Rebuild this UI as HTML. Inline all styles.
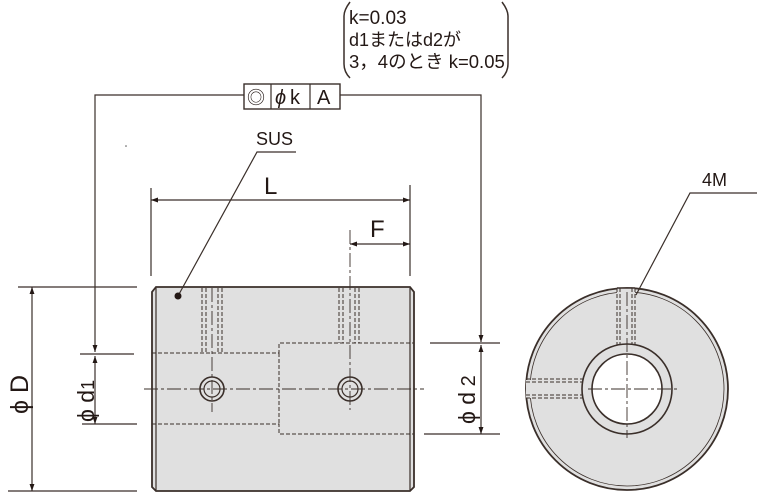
<!DOCTYPE html>
<html><head><meta charset="utf-8"><style>
html,body{margin:0;padding:0;background:#fff}
svg{display:block}
text{font-family:"Liberation Sans","Noto Sans CJK JP",sans-serif;fill:#231815}
</style></head><body>
<svg width="758" height="492" viewBox="0 0 758 492" xmlns="http://www.w3.org/2000/svg">
<defs>
<marker id="a" viewBox="0 0 10 10" refX="10" refY="5" markerWidth="10" markerHeight="7" orient="auto-start-reverse" markerUnits="userSpaceOnUse"><path d="M0,1.5 L10,5 L0,8.5z" fill="#231815"/></marker>
</defs>
<g stroke="#3a2f2a" fill="none" stroke-width="1.2">
<path d="M350,2 Q344,10 344,16 L344,64 Q344,72 350,78" stroke-width="1.5"/>
<path d="M502,2 Q508,10 508,16 L508,64 Q508,72 502,78" stroke-width="1.5"/>
<rect x="244" y="84" width="96" height="25" fill="#fff" stroke-width="1.4"/>
<line x1="271" y1="84" x2="271" y2="109"/><line x1="310" y1="84" x2="310" y2="109"/>
<polyline points="244,95 95,95 95,352" marker-end="url(#a)"/>
<polyline points="340,95 481,95 481,342" marker-end="url(#a)"/>
<path d="M156,287 L410,287 L414,292 L414,487 L410,491 L156,491 L152,487 L152,292 Z" fill="#e0e0e0" stroke-width="1.8"/>
<line x1="156" y1="288" x2="156" y2="490"/><line x1="410" y1="288" x2="410" y2="490"/>
<g stroke-dasharray="4,2" stroke-width="1">
<polyline points="152,353 279,353 279,343 414,343"/>
<polyline points="152,424 279,424 279,434 414,434"/>
<line x1="279" y1="353" x2="279" y2="424"/>
<line x1="202" y1="288" x2="202" y2="353"/><line x1="206" y1="288" x2="206" y2="353"/>
<line x1="218" y1="288" x2="218" y2="353"/><line x1="222" y1="288" x2="222" y2="353"/>
<line x1="339" y1="288" x2="339" y2="343"/><line x1="343" y1="288" x2="343" y2="343"/>
<line x1="355" y1="288" x2="355" y2="343"/><line x1="359" y1="288" x2="359" y2="343"/>
</g>
<g stroke-dasharray="14,3,3,3" stroke-width="0.9">
<line x1="144" y1="389" x2="424" y2="389"/>
<line x1="212" y1="288" x2="212" y2="412"/>
<line x1="350" y1="230" x2="350" y2="410"/>
</g>
<circle cx="212" cy="389" r="12" stroke-width="1.6"/><circle cx="212" cy="389" r="8"/>
<circle cx="350" cy="389" r="12" stroke-width="1.6"/><circle cx="350" cy="389" r="8"/>
<line x1="18" y1="287" x2="137" y2="287"/><line x1="8" y1="491" x2="137" y2="491"/>
<line x1="32" y1="287" x2="32" y2="491" marker-start="url(#a)" marker-end="url(#a)"/>
<line x1="80" y1="354" x2="134" y2="354"/><line x1="82" y1="424" x2="137" y2="424"/>
<line x1="95" y1="356" x2="95" y2="424" marker-start="url(#a)" marker-end="url(#a)"/>
<line x1="430" y1="343" x2="500" y2="343"/><line x1="424" y1="434" x2="500" y2="434"/>
<line x1="481" y1="345" x2="481" y2="434" marker-start="url(#a)" marker-end="url(#a)"/>
<line x1="151" y1="188" x2="151" y2="276"/><line x1="410" y1="185" x2="410" y2="276"/>
<line x1="151" y1="200" x2="410" y2="200" marker-start="url(#a)" marker-end="url(#a)"/>
<line x1="350" y1="244" x2="410" y2="244" marker-start="url(#a)" marker-end="url(#a)"/>
<polyline points="296,152 257,152 178,296"/>
<circle cx="627" cy="389" r="101" fill="#e0e0e0" stroke-width="1.8"/>
<circle cx="627" cy="389" r="97" stroke-width="0.8"/>
<rect x="617" y="288" width="18" height="57" fill="#e0e0e0" stroke="none"/>
<rect x="526" y="380" width="40" height="18" fill="#e0e0e0" stroke="none"/>
<g stroke-dasharray="4,2" stroke-width="1">
<line x1="617" y1="288" x2="617" y2="346"/><line x1="620" y1="288" x2="620" y2="346"/>
<line x1="632" y1="288" x2="632" y2="346"/><line x1="635" y1="288" x2="635" y2="346"/>
<line x1="526" y1="379" x2="585" y2="379"/><line x1="526" y1="382" x2="585" y2="382"/>
<line x1="526" y1="395" x2="585" y2="395"/><line x1="526" y1="398" x2="585" y2="398"/>
</g>
<line x1="617" y1="288" x2="635" y2="288" stroke-width="1.6"/>
<circle cx="627" cy="389" r="45" fill="#e0e0e0" stroke-width="1.6"/>
<circle cx="627" cy="389" r="35" fill="#fff" stroke-width="1.6"/>
<g stroke-dasharray="14,3,3,3" stroke-width="0.9">
<line x1="588" y1="389" x2="680" y2="389"/><line x1="627" y1="292" x2="627" y2="438"/>
</g>
<polyline points="757,193 690,193 636,295"/>
</g>
<circle cx="178" cy="296" r="3.5" fill="#231815"/>
<circle cx="126" cy="146" r="0.8" fill="#555"/>
<text x="349" y="24" font-size="19">k=0.03</text>
<text x="349" y="46" font-size="18">d1またはd2が</text>
<text x="349" y="68" font-size="18.5">3，4のとき k=0.05</text>
<text x="247" y="104" font-size="18">◎</text>
<text x="275" y="104" font-size="20" font-style="italic">ϕ</text><text x="290" y="104" font-size="20">k</text>
<text x="317" y="104" font-size="20">A</text>
<text x="256" y="145" font-size="18">SUS</text>
<text x="264" y="194" font-size="24">L</text>
<text x="370" y="237" font-size="24">F</text>
<text x="702" y="186" font-size="18">4M</text>
<text transform="translate(28,414) rotate(-90)" font-size="25">ϕ D</text>
<text transform="translate(94,422) rotate(-90)" font-size="23">ϕ d<tspan font-size="18">1</tspan></text>
<text transform="translate(475,424) rotate(-90)" font-size="23">ϕ d<tspan font-size="20"> 2</tspan></text>
</svg>
</body></html>
